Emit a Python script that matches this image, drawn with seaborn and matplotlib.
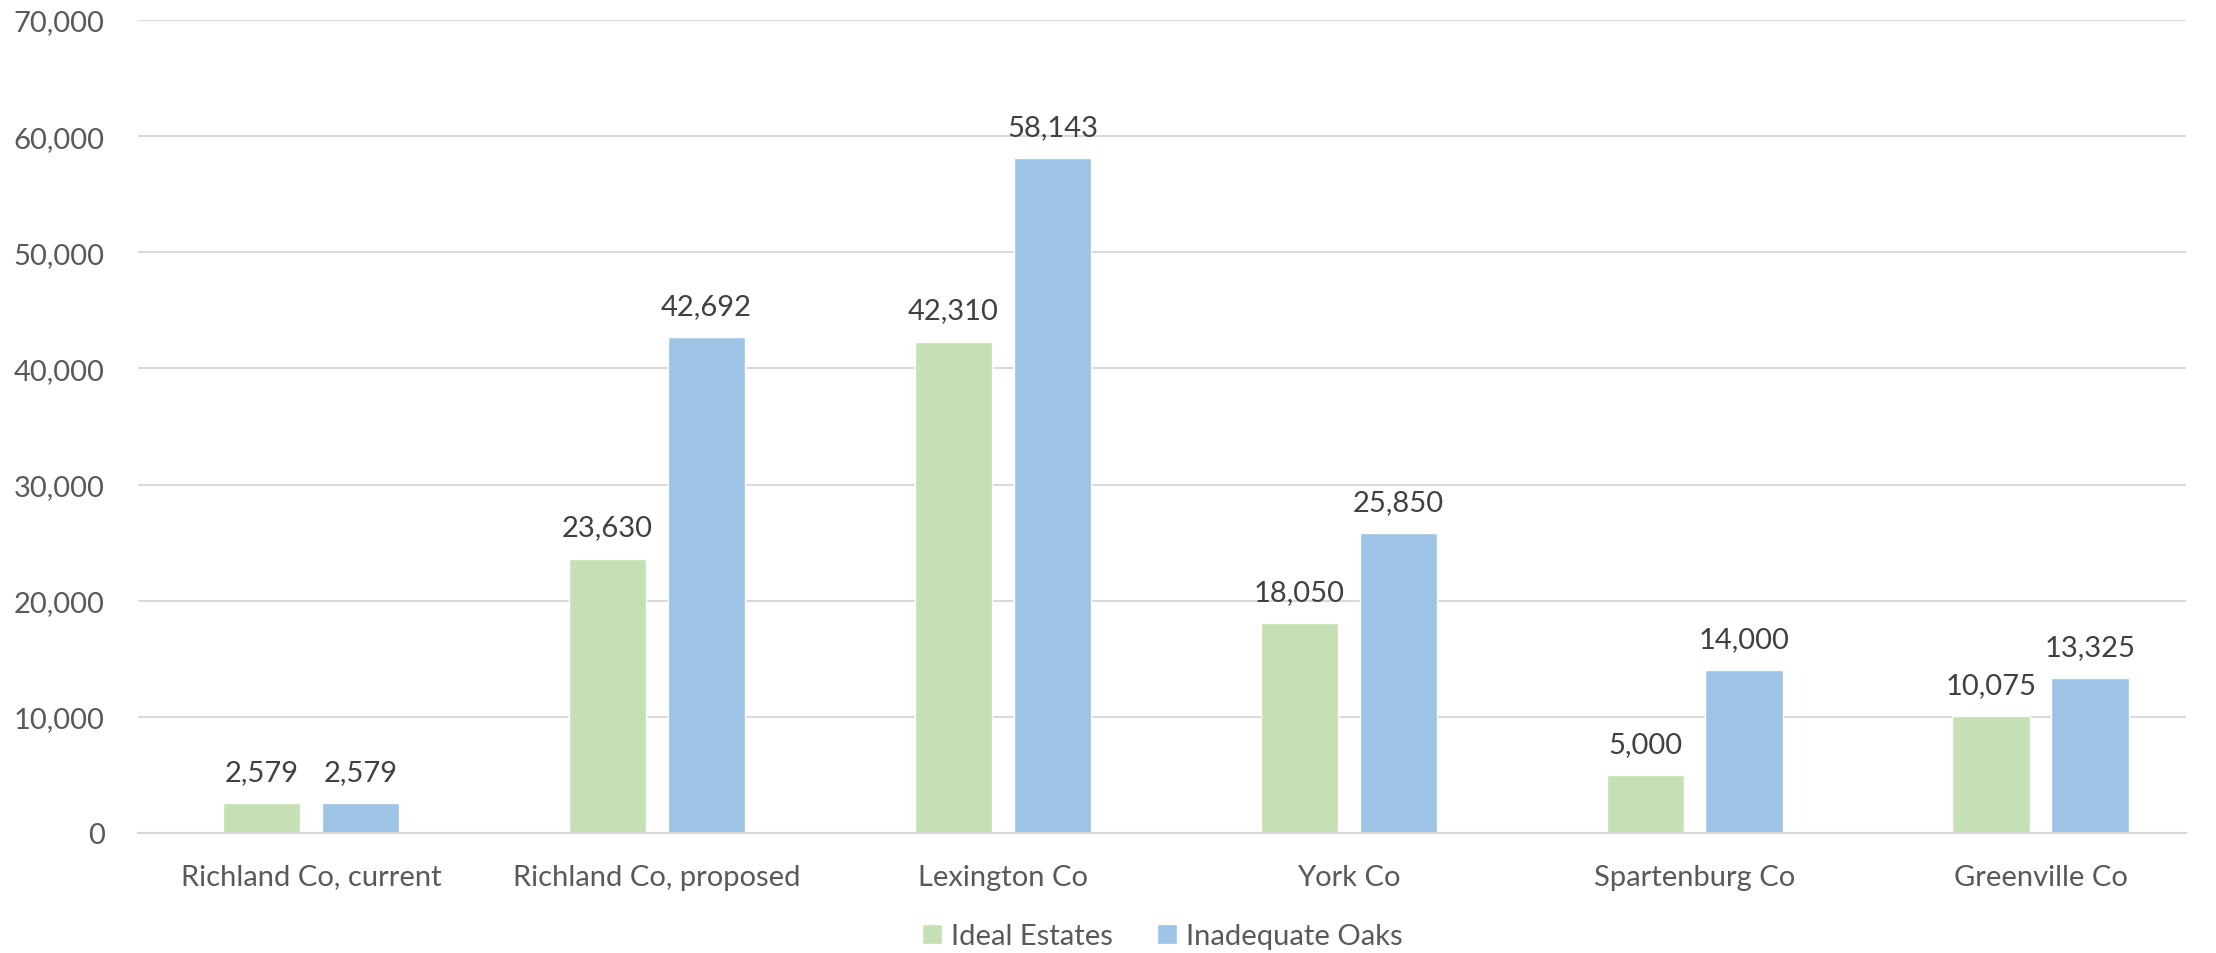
import seaborn as sns
import matplotlib.pyplot as plt
from matplotlib.ticker import FuncFormatter
import pandas as pd

counties = ["Richland Co, current", "Richland Co, proposed", "Lexington Co",
            "York Co", "Spartenburg Co", "Greenville Co"]
ideal_estates = [2579, 23630, 42310, 18050, 5000, 10075]
inadequate_oaks = [2579, 42692, 58143, 25850, 14000, 13325]
series_names = ["Ideal Estates", "Inadequate Oaks"]

df = pd.DataFrame({
    "county": counties * 2,
    "series": [series_names[0]] * len(counties) + [series_names[1]] * len(counties),
    "value": ideal_estates + inadequate_oaks,
})

sns.set_theme(style="white")
plt.rcParams["font.family"] = ["Lato", "DejaVu Sans"]

fig = plt.figure(figsize=(22.16, 9.54), dpi=100)
ax = fig.add_axes([0.0623, 0.1258, 0.9242, 0.8522])

sns.barplot(data=df, x="county", y="value", hue="series",
            palette=["#C5E0B4", "#9DC3E6"], saturation=1, width=0.572, gap=0.215,
            ax=ax, legend=True)

for c in ax.containers:
    ax.bar_label(c, labels=[f"{v:,.0f}" for v in c.datavalues],
                 padding=13, fontsize=21, color="#404040")

ax.set_xlim(-0.5, 5.42)
ax.set_ylim(0, 70000)
ax.set_yticks(range(0, 70001, 10000))
ax.yaxis.set_major_formatter(FuncFormatter(lambda v, p: f"{v:,.0f}"))
ax.grid(axis="y", color="#D9D9D9", linewidth=1.5)
ax.set_axisbelow(True)
sns.despine(ax=ax, left=True, top=True, right=True)
ax.spines["bottom"].set_color("#D9D9D9")
ax.spines["bottom"].set_linewidth(1.5)
ax.tick_params(axis="both", length=0, labelsize=21, labelcolor="#595959")
ax.tick_params(axis="x", pad=22)
ax.tick_params(axis="y", pad=24)
ax.set_xlabel("")
ax.set_ylabel("")

ax.legend(loc="center", bbox_to_anchor=(0.5, -0.127), ncol=2, frameon=False,
          fontsize=21, labelcolor="#595959", handlelength=0.7, handleheight=0.7,
          handletextpad=0.3, columnspacing=1.5, borderpad=0)

fig.savefig("out.png", dpi=100)
